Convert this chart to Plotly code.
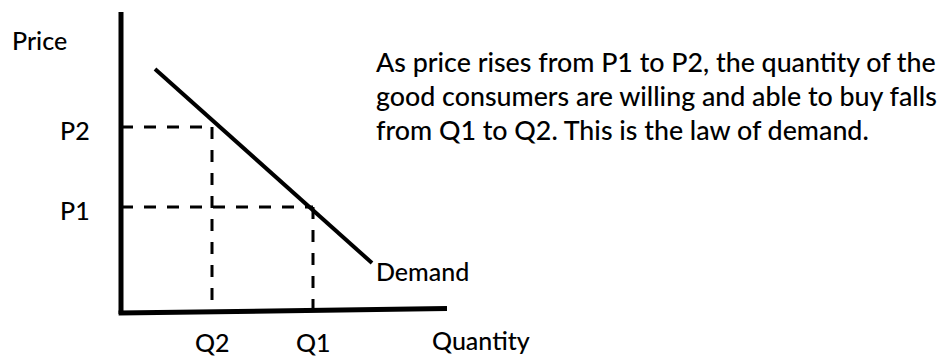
import plotly.graph_objects as go

# Demand schedule (arbitrary quantity / price units)
demand_q = [1.7, 12.55]
demand_p = [12.2, 2.5]

# The two price levels and the quantities demanded at them
price_labels = ["P1", "P2"]
price_values = [5.3, 9.3]
qty_labels = ["Q1", "Q2"]
qty_values = [9.6, 4.55]

# Extent of the drawn axes
q_axis_end = 16.3
q_axis_rise = 0.22
p_axis_top = 15.05

caption = [
    "As price rises from P1 to P2, the quantity of the",
    "good consumers are willing and able to buy falls",
    "from Q1 to Q2. This is the law of demand.",
]

FONT = "Lato, Calibri, Carlito, sans-serif"
INK = "#000000"

fig = go.Figure()

# Guide lines from each price level across to the curve and down to the quantity axis
dash = dict(color="black", width=3, dash="12px,11px")
for p, q, drop in zip(price_values, qty_values, [-0.25, 0.4]):
    fig.add_trace(go.Scatter(x=[0, q], y=[p, p], mode="lines", line=dash, hoverinfo="skip"))
    fig.add_trace(go.Scatter(x=[q, q], y=[p, drop], mode="lines", line=dash, hoverinfo="skip"))

# Axes drawn as heavy strokes
fig.add_trace(go.Scatter(x=[0, 0], y=[p_axis_top, -0.05], mode="lines",
                         line=dict(color="black", width=5), hoverinfo="skip"))
fig.add_trace(go.Scatter(x=[-0.12, q_axis_end], y=[0, q_axis_rise], mode="lines",
                         line=dict(color="black", width=5), hoverinfo="skip"))

# Demand curve
fig.add_trace(go.Scatter(x=demand_q, y=demand_p, mode="lines",
                         line=dict(color="black", width=4), hoverinfo="skip"))

ann = []
def label(text, x, y, xanchor="center", size=25, yshift=0):
    ann.append(dict(text=text, x=x, y=y, xref="x", yref="y", showarrow=False,
                    xanchor=xanchor, yanchor="middle", yshift=yshift,
                    font=dict(family=FONT, size=size, color=INK, weight=500)))

label("Price", -5.55, 13.65, xanchor="left")
for name, p in zip(price_labels, price_values):
    label(name, -1.45, p, xanchor="right", yshift=-3)
for name, q in zip(qty_labels, qty_values):
    label(name, q, -1.45)
label("Quantity", 15.45, -1.35, xanchor="left")
label("Demand", demand_q[1] + 0.1, demand_p[1] - 0.4, xanchor="left")
for i, line in enumerate(caption):
    label(line, 12.65, 12.5 - 1.7 * i, xanchor="left", size=26.8, yshift=1)

fig.update_layout(
    width=940, height=356,
    margin=dict(l=0, r=0, t=0, b=0),
    paper_bgcolor="white", plot_bgcolor="white",
    showlegend=False,
    xaxis=dict(range=[-6.05, 40.95], visible=False, fixedrange=True),
    yaxis=dict(range=[-2.15, 15.65], visible=False, fixedrange=True),
    annotations=ann,
)

fig.write_html("out.html")
